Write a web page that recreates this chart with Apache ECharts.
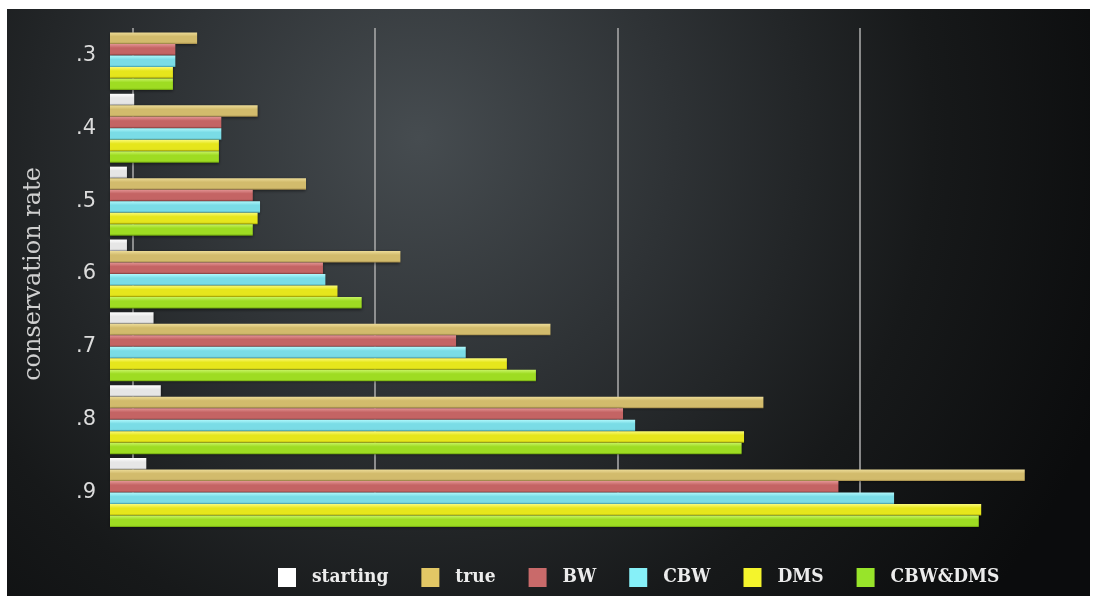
<!DOCTYPE html>
<html>
<head>
<meta charset="utf-8">
<script src="https://cdn.jsdelivr.net/npm/echarts@6/dist/echarts.min.js"></script>
<style>
  html, body { margin: 0; padding: 0; background: #ffffff; }
  #chart { width: 1093px; height: 599px; }
</style>
</head>
<body>
<div id="chart"></div>
<script>
// ---- data (values in grid-line units) ----
const categories = ['.3', '.4', '.5', '.6', '.7', '.8', '.9'];
const seriesNames = ['starting', 'true', 'BW', 'CBW', 'DMS', 'CBW&DMS'];
const starting = [0.00, 0.10, 0.07, 0.07, 0.18, 0.21, 0.15];
const trueVals = [0.36, 0.61, 0.81, 1.20, 1.82, 2.70, 3.78];
const bw       = [0.27, 0.46, 0.59, 0.88, 1.43, 2.12, 3.01];
const cbw      = [0.27, 0.46, 0.62, 0.89, 1.47, 2.17, 3.24];
const dms      = [0.26, 0.45, 0.61, 0.94, 1.64, 2.62, 3.60];
const cbwDms   = [0.26, 0.45, 0.59, 1.04, 1.76, 2.61, 3.59];
const seriesValues = [starting, trueVals, bw, cbw, dms, cbwDms];

// ---- styling ----
const flatColors = ['#ffffff', '#e2c765', '#c96a6a', '#86f0f8', '#f4f42c', '#98e42a'];
const gradStops = [
  ['#ffffff', '#e6e6e6', '#9c9c9c'],
  ['#eddc98', '#d2bb6c', '#a08848'],
  ['#e39494', '#c46464', '#8e4444'],
  ['#b0f8fc', '#7adce6', '#4aaab4'],
  ['#fbfb78', '#e6e61c', '#a8a800'],
  ['#c8f464', '#9edc22', '#6a9e0c']
];
function barGrad(i) {
  const s = gradStops[i];
  return new echarts.graphic.LinearGradient(0, 0, 0, 1, [
    { offset: 0, color: s[0] },
    { offset: 0.35, color: s[1] },
    { offset: 0.85, color: s[1] },
    { offset: 1, color: s[2] }
  ]);
}

const chart = echarts.init(document.getElementById('chart'), null, { renderer: 'canvas' });

const series = seriesNames.map((name, i) => ({
  name: name,
  type: 'bar',
  xAxisIndex: 0,
  yAxisIndex: 0,
  barWidth: 11.5,
  barGap: '0%',
  data: seriesValues[i],
  itemStyle: {
    color: barGrad(i),
    shadowColor: 'rgba(0,0,0,0.5)',
    shadowBlur: 3,
    shadowOffsetY: 1
  },
  emphasis: { disabled: true },
  z: 3
}));

const option = {
  backgroundColor: '#ffffff',
  animation: false,
  graphic: {
    elements: [{
      type: 'rect',
      z: -100,
      silent: true,
      shape: { x: 7, y: 9, width: 1083, height: 587 },
      style: {
        fill: new echarts.graphic.RadialGradient(0.38, 0.22, 1.25, [
          { offset: 0, color: '#464c50' },
          { offset: 0.35, color: '#2e3235' },
          { offset: 0.7, color: '#17191a' },
          { offset: 1, color: '#0b0c0d' }
        ])
      }
    }]
  },
  legend: {
    left: 273,
    top: 563,
    icon: 'rect',
    itemWidth: 18,
    itemHeight: 19,
    itemGap: 33,
    selectedMode: false,
    textStyle: {
      color: '#ececec',
      fontFamily: "'DejaVu Serif Condensed', 'DejaVu Serif'",
      fontWeight: 'bold',
      fontSize: 19,
      padding: [0, 0, 0, 11]
    },
    data: seriesNames.map((n, i) => ({ name: n, itemStyle: { color: flatColors[i] } }))
  },
  grid: [
    { left: 110, top: 19, width: 968, height: 510 },
    { left: 132.5, top: 28, width: 945.75, height: 470 }
  ],
  xAxis: [
    {
      gridIndex: 0, type: 'value', min: 0, max: 4,
      show: false,
      splitLine: { show: false }
    },
    {
      gridIndex: 1, type: 'value', min: 0, max: 3.9, interval: 1,
      axisLine: { show: false },
      axisTick: { show: false },
      axisLabel: { show: false },
      splitLine: { show: true, showMaxLine: false, lineStyle: { color: '#a6a6a6', width: 1.6 } }
    }
  ],
  yAxis: [
    {
      gridIndex: 0,
      type: 'category',
      inverse: true,
      data: categories,
      axisLine: { show: false },
      axisTick: { show: false },
      axisLabel: {
        color: '#dcdcdc',
        fontFamily: 'DejaVu Sans',
        fontSize: 21,
        margin: 14,
        padding: [6, 0, 0, 0]
      },
      name: 'conservation rate',
      nameLocation: 'middle',
      nameGap: 64,
      nameRotate: 90,
      nameTextStyle: {
        color: '#cfcfcf',
        fontFamily: 'DejaVu Serif',
        fontSize: 24
      }
    },
    {
      gridIndex: 1, type: 'value', min: 0, max: 1, show: false
    }
  ],
  series: series
};

chart.setOption(option);
</script>
</body>
</html>
